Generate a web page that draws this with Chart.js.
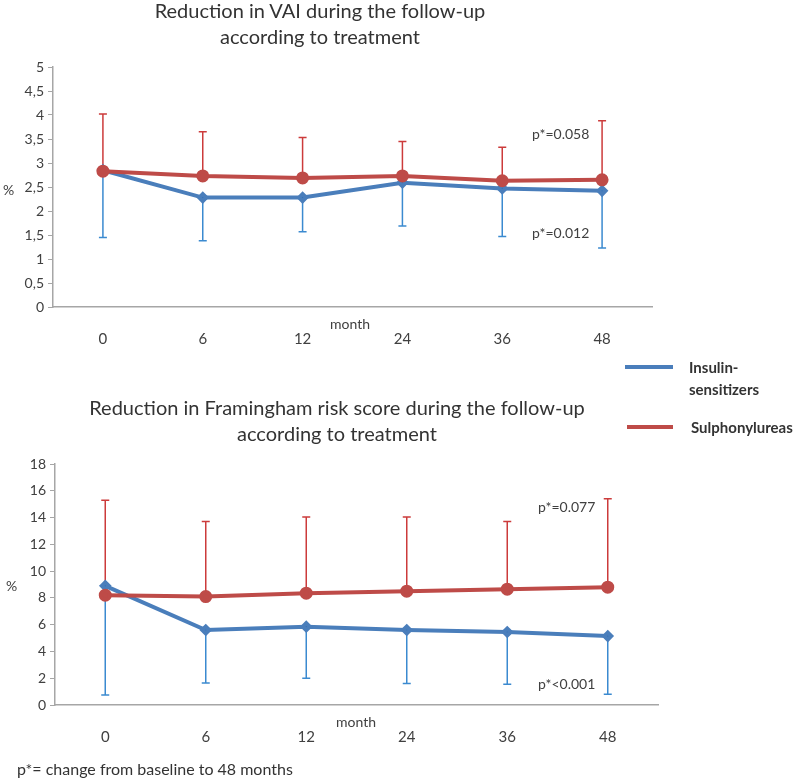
<!DOCTYPE html>
<html>
<head>
<meta charset="utf-8">
<script src="https://cdn.jsdelivr.net/npm/chart.js@4.4.1/dist/chart.umd.min.js"></script>
<style>
  body { margin: 0; background: #fff; font-family: Lato, "Open Sans", sans-serif; color: #404040; }
  #page { position: relative; width: 797px; height: 781px; overflow: hidden; }
  .box { position: absolute; }
  .txt { position: absolute; white-space: nowrap; }
  .title { font-size: 20px; color: #333; text-align: center; line-height: 26px; transform: translateX(-50%); }
  .small { font-size: 14px; color: #404040; }
  .leg { font-size: 15px; font-weight: bold; color: #333; line-height: 22px; }
  .legline { position: absolute; height: 4px; }
</style>
</head>
<body>
<div id="page">
  <div class="box" style="left:0;top:0;width:797px;height:360px;"><canvas id="vai"></canvas></div>
  <div class="box" style="left:0;top:380px;width:797px;height:400px;"><canvas id="frs"></canvas></div>

  <div class="txt title" style="left:320px;top:-3px;">Reduction in VAI during the follow-up<br>according to treatment</div>
  <div class="txt title" style="left:337px;top:394px;">Reduction in Framingham risk score during the follow-up<br>according to treatment</div>

  <div class="txt small" style="left:3px;top:181px;">%</div>
  <div class="txt small" style="left:6px;top:577px;">%</div>
  <div class="txt small" style="left:330px;top:315px;">month</div>
  <div class="txt small" style="left:336px;top:713px;">month</div>

  <div class="txt small" style="left:532px;top:125px;">p*=0.058</div>
  <div class="txt small" style="left:532px;top:224px;">p*=0.012</div>
  <div class="txt small" style="left:538px;top:498px;">p*=0.077</div>
  <div class="txt small" style="left:538px;top:675px;">p*&lt;0.001</div>

  <div class="legline" style="left:625px;top:365px;width:48px;background:#4A7EBB;"></div>
  <div class="txt leg" style="left:689px;top:356px;">Insulin-<br>sensitizers</div>
  <div class="legline" style="left:627px;top:425px;width:46px;background:#BE4B48;"></div>
  <div class="txt leg" style="left:691px;top:416px;">Sulphonylureas</div>

  <div class="txt" style="left:17px;top:759px;font-size:16px;color:#333;">p*= change from baseline to 48 months</div>
</div>
<script>
var months = ['0', '6', '12', '24', '36', '48'];

// VAI (top chart)
var vaiInsulin = [2.85, 2.28, 2.28, 2.59, 2.47, 2.42];
var vaiInsulinLow = [1.45, 1.38, 1.57, 1.69, 1.47, 1.23];
var vaiSulph = [2.83, 2.73, 2.69, 2.73, 2.63, 2.65];
var vaiSulphHigh = [4.02, 3.65, 3.53, 3.45, 3.33, 3.88];

// Framingham risk score (bottom chart)
var frsInsulin = [8.9, 5.6, 5.85, 5.6, 5.45, 5.15];
var frsInsulinLow = [0.75, 1.65, 2.0, 1.6, 1.55, 0.8];
var frsSulph = [8.2, 8.1, 8.35, 8.5, 8.65, 8.8];
var frsSulphHigh = [15.3, 13.7, 14.05, 14.05, 13.7, 15.4];

var blue = '#4A7EBB', blueErr = '#3B8AD0';
var red = '#BE4B48', redErr = '#CC3B3B';

// error bars: one-sided, drawn from each point to its bound
var errorBars = {
    id: 'errorBars',
    beforeDatasetsDraw: function (chart, args, opts) {
        var ctx = chart.ctx;
        var x = chart.scales.x, y = chart.scales.y;
        ctx.save();
        ctx.lineWidth = 1.5;
        chart.data.datasets.forEach(function (ds) {
            ctx.strokeStyle = ds.errColor;
            ds.data.forEach(function (v, i) {
                var px = x.getPixelForValue(i);
                var p0 = y.getPixelForValue(v);
                var p1 = y.getPixelForValue(ds.errBound[i]);
                ctx.beginPath();
                ctx.moveTo(px, p0);
                ctx.lineTo(px, p1);
                ctx.moveTo(px - 4, p1);
                ctx.lineTo(px + 4, p1);
                ctx.stroke();
            });
        });
        ctx.restore();
    }
};

function makeChart(id, ins, insLow, sul, sulHigh, yMax, yStep, pad, yW, xH) {
    return new Chart(document.getElementById(id), {
        type: 'line',
        data: {
            labels: months,
            datasets: [{
                label: 'Sulphonylureas',
                data: sul,
                errBound: sulHigh,
                errColor: redErr,
                borderColor: red,
                backgroundColor: red,
                borderWidth: 4,
                pointStyle: 'circle',
                pointRadius: 4.5,
                order: 0
            }, {
                label: 'Insulin-sensitizers',
                data: ins,
                errBound: insLow,
                errColor: blueErr,
                borderColor: blue,
                backgroundColor: '#2F6FB8',
                borderWidth: 4,
                pointStyle: 'rectRot',
                pointRadius: 3.5,
                order: 1
            }]
        },
        options: {
            responsive: true,
            maintainAspectRatio: false,
            animation: false,
            layout: { padding: pad },
            plugins: {
                legend: { display: false },
                title: { display: false },
                tooltip: { enabled: false }
            },
            scales: {
                x: {
                    offset: true,
                    grid: { display: true, drawOnChartArea: false, drawTicks: false },
                    border: { color: '#A6A6A6', width: 1.5 },
                    ticks: { padding: 23, color: '#404040', font: { family: 'Lato', size: 15 } },
                    afterFit: function (s) { s.height = xH; }
                },
                y: {
                    min: 0,
                    max: yMax,
                    ticks: {
                        stepSize: yStep,
                        padding: 4,
                        color: '#404040',
                        font: { family: 'Lato', size: 14 },
                        callback: function (v) { return String(v).replace('.', ','); }
                    },
                    grid: { drawOnChartArea: false, tickLength: 5, color: '#A6A6A6' },
                    border: { color: '#A6A6A6', width: 1.5 },
                    afterFit: function (s) { s.width = yW; }
                }
            }
        },
        plugins: [errorBars]
    });
}

makeChart('vai', vaiInsulin, vaiInsulinLow, vaiSulph, vaiSulphHigh, 5, 0.5,
    { left: 0, right: 145, top: 67, bottom: 0 }, 53, 53);
makeChart('frs', frsInsulin, frsInsulinLow, frsSulph, frsSulphHigh, 18, 2,
    { left: 0, right: 139, top: 84, bottom: 0 }, 55, 75);
</script>
</body>
</html>
